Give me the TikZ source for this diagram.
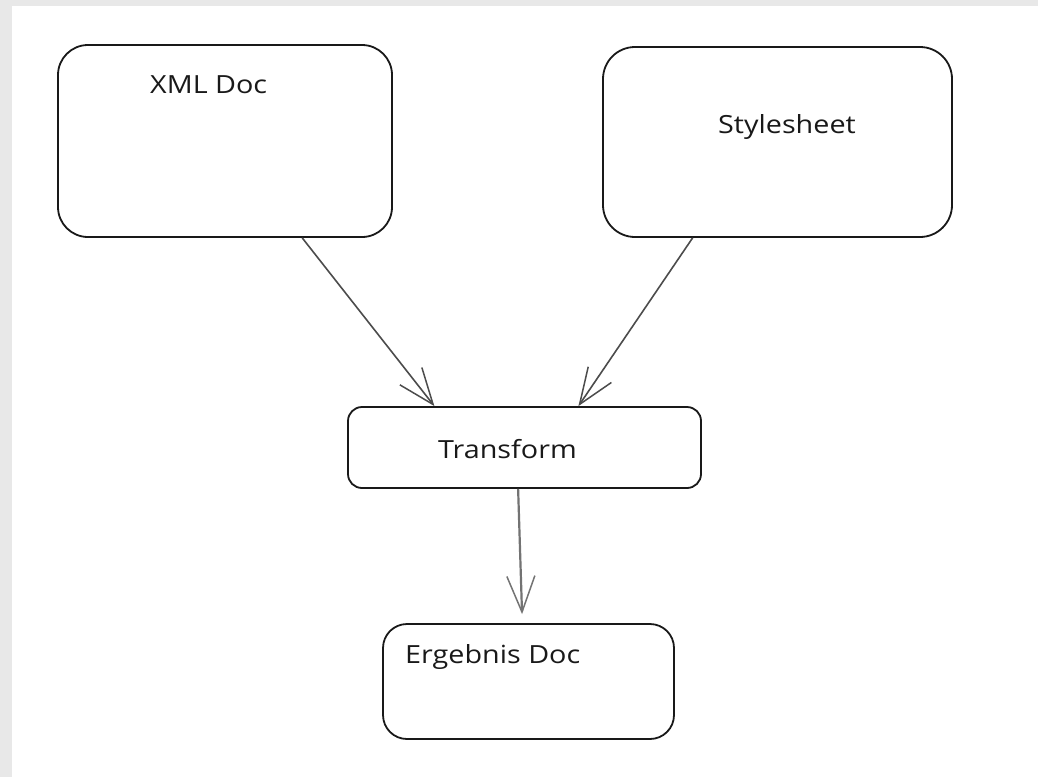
\documentclass[tikz,border=0pt]{standalone}
\usepackage{fontspec}
\setmainfont[FakeStretch=1.15]{Open Sans}
\usetikzlibrary{arrows.meta,calc}
\begin{document}
\begin{tikzpicture}[x=1pt,y=-1pt,
  box/.style={draw=black!90,line width=1.8pt,fill=white,rectangle,inner sep=0pt},
  lbl/.style={anchor=base west,inner sep=0pt,font=\fontsize{25}{28}\selectfont,text=black!90},
  conn/.style={draw=black!70,line width=1.6pt,-{Straight Barb[length=36pt,width=28pt,line width=1.5pt]}}]
\useasboundingbox (0,0) rectangle (1038,777);
\fill[black!9] (0,0) rectangle (1038,777);
\fill[white] (12,6) rectangle (1038,777);
% boxes
\node[box,rounded corners=30pt,minimum width=334pt,minimum height=192pt] (xml) at (225,141) {};
\node[box,rounded corners=32pt,minimum width=349pt,minimum height=190pt] (sty) at (777.5,142) {};
\node[box,rounded corners=14pt,minimum width=353pt,minimum height=81pt] (tr) at (524.5,447.5) {};
\node[box,rounded corners=24pt,minimum width=291pt,minimum height=115pt] (erg) at (528.5,681.5) {};
% labels
\node[lbl] (xmlt) at (150,93) {XML Doc};
\node[lbl] (styt) at (718,133) {Stylesheet};
\node[lbl] (trt) at (438,458) {Transform};
\node[lbl] (ergt) at (405,663) {Ergebnis Doc};
% connectors
\draw[conn] ($(xml.south west)!0.73!(xml.south east)$) -- ($(tr.north west)!0.246!(tr.north east)$);
\draw[conn] ($(sty.south west)!0.258!(sty.south east)$) -- ($(tr.north west)!0.652!(tr.north east)$);
\draw[conn,line width=2.2pt,draw=black!55] ($(tr.south west)!0.482!(tr.south east)$) -- ($(erg.north west)!0.478!(erg.north east)+(0,-9)$);
\end{tikzpicture}
\end{document}
